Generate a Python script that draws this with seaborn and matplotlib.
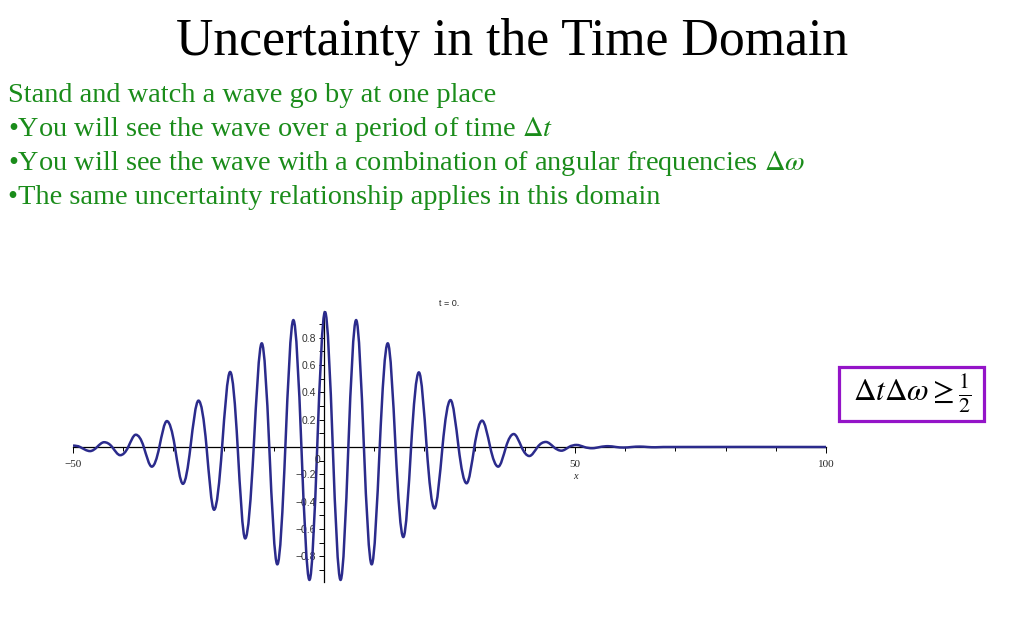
import matplotlib
matplotlib.use("Agg")
import matplotlib.pyplot as plt
import matplotlib.patches as patches
from matplotlib.path import Path
from matplotlib.ticker import FixedLocator, MultipleLocator
import seaborn as sns
import pandas as pd
import numpy as np

# slide text
title = "Uncertainty in the Time Domain"
lines = [
    "Stand and watch a wave go by at one place",
    r"•You will see the wave over a period of time $\Delta t$",
    r"•You will see the wave with a combination of angular frequencies $\Delta\omega$",
    "•The same uncertainty relationship applies in this domain",
]
formula = r"$\Delta t\Delta\omega \geq \frac{1}{2}$"

# wave packet: extrema and zero crossings
peak_x = [-50, -46.6, -43.8, -40.6, -37.5, -34.3, -31.3, -28.1, -25.0, -21.9, -18.7,
          -15.7, -12.4, -9.3, -6.1, -2.9, 0.2, 3.3, 6.4, 9.5, 12.7, 15.8, 18.9,
          22.0, 25.2, 28.4, 31.5, 34.7, 37.8, 40.9, 44.2, 47.3, 50.3, 53.4, 56.6,
          59.7, 62.9, 66.0, 100]
peak_y = [0.01, -0.03, 0.035, -0.06, 0.09, -0.144, 0.19, -0.27, 0.34, -0.46, 0.55,
          -0.67, 0.76, -0.86, 0.93, -0.974, 0.99, -0.974, 0.93, -0.86, 0.76, -0.66, 0.547,
          -0.45, 0.344, -0.266, 0.193, -0.144, 0.095, -0.066, 0.037, -0.027, 0.015, -0.009, 0.006,
          -0.004, 0.003, -0.002, 0.0]
zero_x = [-48.6, -45.2, -42.2, -39.0, -35.9, -32.8, -29.7, -26.6, -23.4, -20.3, -17.2,
          -14.0, -10.9, -7.7, -4.5, -1.35, 1.75, 4.85, 7.95, 11.1, 14.25, 17.35, 20.45,
          23.6, 26.8, 29.95, 33.1, 36.25, 39.35, 42.55, 45.75, 48.8, 51.85, 55.0, 58.15,
          61.3, 64.45, 67.6]

x_ticks = [-50, 50, 100]
y_ticks = [-0.8, -0.6, -0.4, -0.2, 0.2, 0.4, 0.6, 0.8]
y_minor = [-0.9, -0.7, -0.5, -0.3, -0.1, 0.1, 0.3, 0.5, 0.7, 0.9]

wave = pd.concat([
    pd.DataFrame({"x": peak_x, "y": peak_y, "zero": False}),
    pd.DataFrame({"x": zero_x, "y": [0.0] * len(zero_x), "zero": True}),
]).sort_values("x").reset_index(drop=True)

sns.set_theme(style="white")
plt.rcParams["font.family"] = ["Liberation Serif", "DejaVu Serif"]
plt.rcParams["mathtext.fontset"] = "stix"

fig = plt.figure(figsize=(10.24, 6.4), dpi=100)
ax = fig.add_axes([73 / 1024, 1 - 583.5 / 640, 753 / 1024, 273 / 640])

# smooth curve through the read points: flat at the extrema, sine-like slope at zeros
xs, ys, zs = wave["x"].to_numpy(), wave["y"].to_numpy(), wave["zero"].to_numpy()
slope = np.zeros(len(xs))
for i in range(1, len(xs) - 1):
    if zs[i]:
        slope[i] = (ys[i + 1] - ys[i - 1]) / (xs[i + 1] - xs[i - 1]) * np.pi / 2
verts, codes = [(xs[0], ys[0])], [Path.MOVETO]
for i in range(len(xs) - 1):
    d = (xs[i + 1] - xs[i]) / 3
    verts += [(xs[i] + d, ys[i] + slope[i] * d),
              (xs[i + 1] - d, ys[i + 1] - slope[i + 1] * d),
              (xs[i + 1], ys[i + 1])]
    codes += [Path.CURVE4] * 3
ax.add_patch(patches.PathPatch(Path(verts, codes), fill=False, edgecolor="#2b2b8c",
                               lw=1.8, joinstyle="round", zorder=3))

ax.set_xlim(-50, 100)
ax.set_ylim(-1, 1)
for s in ["top", "right"]:
    ax.spines[s].set_visible(False)
ax.spines["left"].set_position(("data", 0))
ax.spines["bottom"].set_position(("data", 0))
ax.spines["left"].set_bounds(-0.99, 1.0)
for s in ["left", "bottom"]:
    ax.spines[s].set_color("black")
    ax.spines[s].set_linewidth(0.9)
    ax.spines[s].set_zorder(2)

ax.xaxis.set_major_locator(FixedLocator(x_ticks))
ax.xaxis.set_minor_locator(MultipleLocator(10))
ax.set_xticklabels(["\u221250", "50", "100"])
ax.yaxis.set_major_locator(FixedLocator(y_ticks))
ax.yaxis.set_minor_locator(FixedLocator(y_minor))
ax.set_yticklabels([f"{v:.1f}".replace("-", "\u2212") for v in y_ticks])
ax.tick_params(axis="x", which="both", direction="out", bottom=True, color="black",
               width=0.7, labelsize=8, pad=5)
ax.tick_params(axis="x", which="major", length=4.5)
ax.tick_params(axis="x", which="minor", length=3)
ax.tick_params(axis="y", which="both", direction="out", left=True, color="black",
               width=0.7, length=3.5, labelsize=7.5, pad=2.5, labelcolor="#333333")
for lab in ax.get_yticklabels():
    lab.set_family(["Liberation Sans", "DejaVu Sans"])

ax.text(-1.3, -0.095, "0", fontsize=7.5, family=["Liberation Sans"], color="#333333",
        ha="center", va="center")
ax.text(50, -0.215, "x", fontsize=7.5, style="italic", ha="center", va="center")
ax.set_title("t = 0.", fontsize=6.5, family=["Liberation Sans"], pad=3)

# slide text
fig.text(0.5, 1 - 55 / 640, title, ha="center", va="baseline", fontsize=37.3, color="black")
for txt, base in zip(lines, [102, 136.5, 170, 203.5]):
    fig.text(8 / 1024, 1 - base / 640, txt, ha="left", va="baseline", fontsize=20.4,
             color="#1a8c1a")

box = patches.Rectangle((839 / 1024, 1 - 421 / 640), 145 / 1024, 54 / 640,
                        transform=fig.transFigure, fill=False, edgecolor="#9414c8",
                        lw=2.3)
fig.add_artist(box)
fig.text(912 / 1024, 1 - 394 / 640, formula, ha="center", va="center", fontsize=22.5,
         color="black")

fig.savefig("out.png", dpi=100)
